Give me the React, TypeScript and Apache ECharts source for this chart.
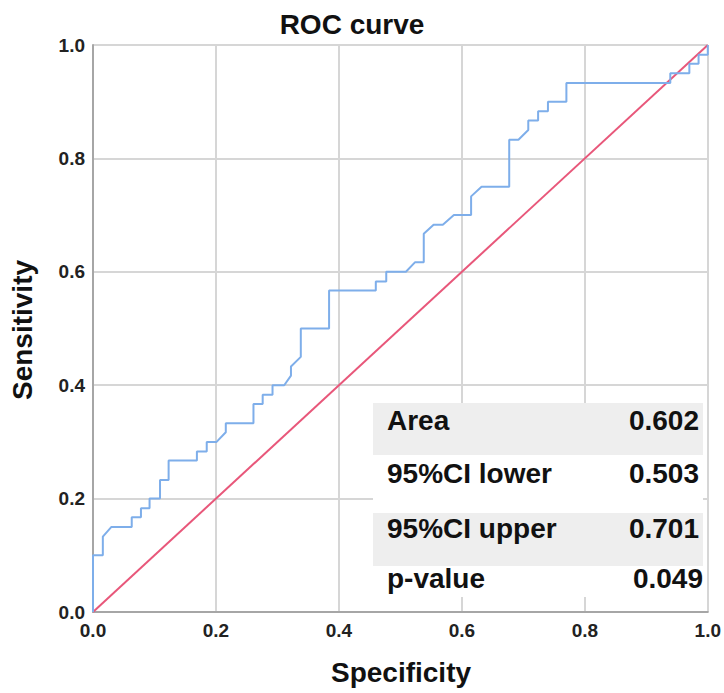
import React, { useEffect, useRef } from "react";
import * as echarts from "echarts";

const titleText = "ROC curve";
const xAxisName = "Specificity";
const yAxisName = "Sensitivity";
const tickValues = [0, 0.2, 0.4, 0.6, 0.8, 1.0];

const rocX = [0, 0, 0.016, 0.016, 0.03, 0.063, 0.063, 0.078, 0.078, 0.092, 0.092, 0.109, 0.109, 0.123, 0.123, 0.169, 0.169, 0.185, 0.185, 0.201, 0.216, 0.216, 0.261, 0.261, 0.276, 0.276, 0.292, 0.292, 0.311, 0.322, 0.322, 0.338, 0.338, 0.384, 0.384, 0.46, 0.46, 0.477, 0.477, 0.509, 0.524, 0.538, 0.538, 0.554, 0.569, 0.587, 0.615, 0.615, 0.632, 0.677, 0.677, 0.692, 0.708, 0.708, 0.724, 0.724, 0.74, 0.74, 0.77, 0.77, 0.939, 0.939, 0.97, 0.97, 0.985, 0.985, 1.0, 1.0];
const rocY = [0, 0.1, 0.1, 0.133, 0.15, 0.15, 0.167, 0.167, 0.183, 0.183, 0.2, 0.2, 0.233, 0.233, 0.267, 0.267, 0.283, 0.283, 0.3, 0.3, 0.317, 0.333, 0.333, 0.367, 0.367, 0.383, 0.383, 0.4, 0.4, 0.417, 0.433, 0.45, 0.5, 0.5, 0.567, 0.567, 0.583, 0.583, 0.6, 0.6, 0.617, 0.617, 0.667, 0.683, 0.683, 0.7, 0.7, 0.733, 0.75, 0.75, 0.833, 0.833, 0.85, 0.867, 0.867, 0.883, 0.883, 0.9, 0.9, 0.933, 0.933, 0.95, 0.95, 0.967, 0.967, 0.983, 0.983, 1.0];

const refX = [0, 1];
const refY = [0, 1];

const statLabels = ["Area", "95%CI lower", "95%CI upper", "p-value"];
const statValues = ["0.602", "0.503", "0.701", "0.049"];

const W = 724;
const H = 693;
const GRID_LEFT = 93;
const GRID_TOP = 45;
const GRID_RIGHT = 14;
const GRID_BOTTOM = 81;

export default function App() {
  const ref = useRef<HTMLDivElement>(null);
  useEffect(() => {
    if (!ref.current) return;
    const chart = echarts.init(ref.current, null, { renderer: "svg" });

    const font = "'Liberation Sans', Arial, sans-serif";
    const rowTops = [403, 455, 513, 566];
    const rowBottoms = [455, 513, 566, 597];
    const rowCenters = [420, 473, 528, 578];
    const valueRight = [699, 699, 699, 703];
    const tableLeft = 373;
    const tableRight = 703;

    const tableEls: any[] = [];
    tableEls.push({
      type: "rect",
      z: 50,
      shape: { x: tableLeft, y: rowTops[0], width: tableRight - tableLeft, height: rowBottoms[3] - rowTops[0] },
      style: { fill: "#ffffff" },
    });
    statLabels.forEach((lab, i) => {
      if (i % 2 === 0) {
        tableEls.push({
          type: "rect",
          z: 51,
          shape: { x: tableLeft, y: rowTops[i], width: tableRight - tableLeft, height: rowBottoms[i] - rowTops[i] },
          style: { fill: "#eeeeee" },
        });
      }
      tableEls.push({
        type: "text",
        z: 52,
        x: 387,
        y: rowCenters[i],
        style: { text: lab, font: `bold 28px ${font}`, fill: "#111", textAlign: "left", textVerticalAlign: "middle" },
      });
      tableEls.push({
        type: "text",
        z: 52,
        x: valueRight[i],
        y: rowCenters[i],
        style: { text: statValues[i], font: `bold 28px ${font}`, fill: "#111", textAlign: "right", textVerticalAlign: "middle" },
      });
    });

    chart.setOption({
      animation: false,
      backgroundColor: "#ffffff",
      grid: { left: GRID_LEFT, top: GRID_TOP, right: GRID_RIGHT, bottom: GRID_BOTTOM, containLabel: false },
      xAxis: {
        type: "value",
        min: 0,
        max: 1,
        interval: 0.2,
        axisLine: { show: true, onZero: false, lineStyle: { color: "#a6a6a6", width: 2 } },
        axisTick: { show: false },
        splitLine: { show: true, lineStyle: { color: "#d6d6d6", width: 2 } },
        axisLabel: {
          margin: 9,
          fontFamily: font,
          fontWeight: "bold",
          fontSize: 19,
          color: "#222",
          formatter: (v: number) => (tickValues.some((t) => Math.abs(t - v) < 1e-6) ? v.toFixed(1) : ""),
        },
      },
      yAxis: {
        type: "value",
        min: 0,
        max: 1,
        interval: 0.2,
        axisLine: { show: true, onZero: false, lineStyle: { color: "#a6a6a6", width: 2 } },
        axisTick: { show: false },
        splitLine: { show: true, lineStyle: { color: "#d6d6d6", width: 2 } },
        axisLabel: {
          margin: 8,
          fontFamily: font,
          fontWeight: "bold",
          fontSize: 19,
          color: "#222",
          formatter: (v: number) => v.toFixed(1),
        },
      },
      series: [
        {
          type: "line",
          data: refX.map((x, i) => [x, refY[i]]),
          showSymbol: false,
          symbol: "none",
          lineStyle: { color: "#e8577a", width: 2 },
          z: 3,
        },
        {
          type: "line",
          data: rocX.map((x, i) => [x, rocY[i]]),
          showSymbol: false,
          symbol: "none",
          lineStyle: { color: "#7eaeea", width: 2 },
          z: 4,
        },
      ],
      graphic: [
        {
          type: "text",
          x: 352,
          y: 24,
          style: { text: titleText, font: `bold 28px ${font}`, fill: "#111", textAlign: "center", textVerticalAlign: "middle" },
        },
        {
          type: "text",
          x: 401,
          y: 672,
          style: { text: xAxisName, font: `bold 28px ${font}`, fill: "#111", textAlign: "center", textVerticalAlign: "middle" },
        },
        {
          type: "text",
          x: 22,
          y: 330,
          rotation: Math.PI / 2,
          style: { text: yAxisName, font: `bold 28px ${font}`, fill: "#111", textAlign: "center", textVerticalAlign: "middle" },
        },
        ...tableEls,
      ],
    });
    return () => chart.dispose();
  }, []);
  return <div ref={ref} style={{ position: "fixed", left: 0, top: 0, width: W, height: H }} />;
}
